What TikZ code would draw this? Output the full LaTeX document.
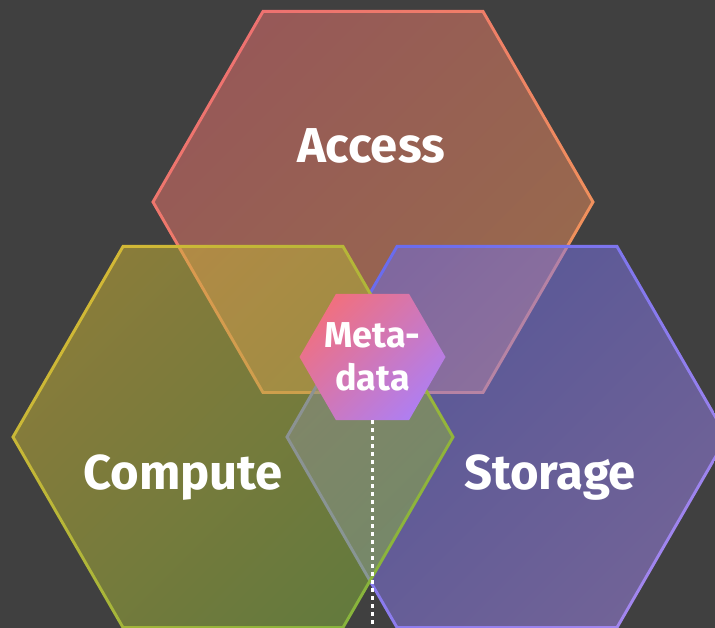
\documentclass[tikz,border=0pt]{standalone}
\usepackage{fontspec}
\setmainfont{Fira Sans}
\usetikzlibrary{shapes.geometric}
\definecolor{backdrop}{HTML}{404040}
\definecolor{accessA}{HTML}{EE7270}
\definecolor{accessB}{HTML}{F0945A}
\definecolor{computeA}{HTML}{D2B836}
\definecolor{computeB}{HTML}{88B43C}
\definecolor{storageA}{HTML}{6A6CEE}
\definecolor{storageB}{HTML}{A286EE}
\definecolor{metaA}{HTML}{F07080}
\definecolor{metaB}{HTML}{B07EF0}

\begin{document}
\begin{tikzpicture}[x=1pt, y=1pt,
  hexpath/.style={insert path={(0:#1) -- (60:#1) -- (120:#1) -- (180:#1) -- (240:#1) -- (300:#1) -- cycle}},
  hexfill/.style 2 args={top color=#1, bottom color=#2, shading angle=45, fill opacity=0.5},
  hexline/.style 2 args={top color=#1, bottom color=#2, shading angle=45, even odd rule},
  hextext/.style={text=white, anchor=base, font=\bfseries\fontsize{49}{54}\selectfont}]
  \useasboundingbox (0,0) rectangle (715,628);
  \clip (0,0) rectangle (715,628);
  \fill[backdrop] (0,0) rectangle (715,628);

  \coordinate (acc) at (373,426);
  \coordinate (cmp) at (233,191);
  \coordinate (sto) at (507,191);
  \coordinate (base) at (372.5,0);

  % the three big hexagons, storage under compute
  \foreach \c/\a/\b in {acc/accessA/accessB, sto/storageA/storageB, cmp/computeA/computeB} {
    \begin{scope}[shift={(\c)}]
      \shade[hexfill={\a}{\b}] [hexpath=220];
      \shade[hexline={\a}{\b}] [hexpath=221.7] [hexpath=218.3];
    \end{scope}
  }

  \node[hextext] (access) at (371,465) {Access};
  \node[hextext] (compute) at (183,138) {Compute};
  \node[hextext] (storage) at (550,138) {Storage};

  \node[regular polygon, regular polygon sides=6, minimum size=146pt, inner sep=-8pt,
    top color=metaA, bottom color=metaB, shading angle=45, text=white, align=center,
    font=\bfseries\fontsize{36}{43}\selectfont] (meta) at (372.5,271) {Meta-\\data};
  \draw[white, line width=3.5pt, dash pattern=on 3.5pt off 4.5pt] (meta) -- (base);
\end{tikzpicture}
\end{document}
